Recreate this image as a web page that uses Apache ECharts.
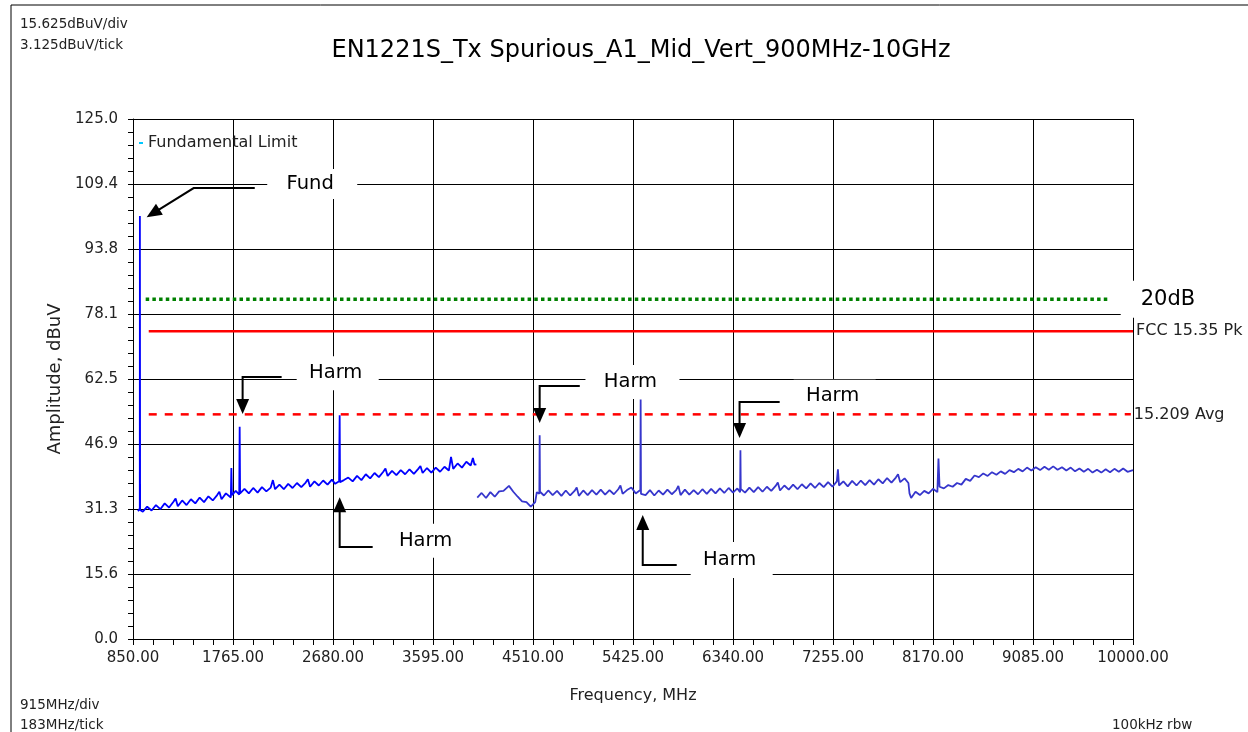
<!DOCTYPE html>
<html>
<head>
<meta charset="utf-8">
<title>EN1221S_Tx Spurious_A1_Mid_Vert_900MHz-10GHz</title>
<script src="https://cdn.jsdelivr.net/npm/echarts@6/dist/echarts.min.js"></script>
<style>
html, body { margin: 0; padding: 0; background: #fff; }
#main { width: 1248px; height: 732px; }
</style>
</head>
<body>
<div id="main"></div>
<script>
// sweep 850 MHz - 4 GHz (first receiver band), values in dBuV
var trace1 = [
    [896, 30.7], [912, 31.4], [913, 101.7], [915, 31.0], [940, 30.6], [980, 31.8], [1020, 30.9],
    [1060, 32.2], [1100, 31.2], [1140, 32.6], [1180, 31.6], [1220, 33.0], [1240, 33.8], [1260, 31.9],
    [1300, 33.3], [1340, 32.2], [1380, 33.6], [1420, 32.6], [1460, 34.0], [1500, 32.9],
    [1540, 34.3], [1580, 33.3], [1620, 34.6], [1640, 35.4], [1660, 33.6], [1700, 35.0], [1745, 34.0],
    [1750, 41.1], [1755, 34.6], [1790, 35.6], [1822, 34.7], [1826, 51.0], [1830, 35.0],
    [1870, 36.1], [1910, 35.0], [1950, 36.3], [1990, 35.2], [2030, 36.5], [2070, 35.5],
    [2110, 36.4], [2130, 38.2], [2150, 36.0], [2190, 37.1], [2230, 36.0], [2270, 37.3],
    [2310, 36.3], [2350, 37.5], [2390, 36.5], [2430, 37.6], [2450, 38.4], [2470, 36.6], [2510, 37.9],
    [2550, 36.9], [2590, 38.1], [2630, 37.1], [2670, 38.3], [2700, 37.3], [2736, 37.9],
    [2738, 45.9], [2741, 53.8], [2744, 37.7], [2780, 38.2], [2820, 38.8], [2860, 37.9],
    [2900, 39.2], [2940, 38.2], [2980, 39.6], [3020, 38.6], [3060, 39.9], [3100, 38.9],
    [3140, 40.2], [3160, 41.0], [3180, 39.2], [3220, 40.4], [3260, 39.4], [3300, 40.6], [3340, 39.6],
    [3380, 40.8], [3420, 39.7], [3460, 40.9], [3480, 41.6], [3500, 39.9], [3540, 41.1], [3580, 40.0],
    [3620, 41.2], [3660, 40.2], [3700, 41.4], [3740, 40.5], [3760, 43.8], [3780, 40.9],
    [3820, 42.2], [3860, 41.2], [3900, 42.6], [3940, 41.7], [3960, 43.5], [3975, 41.9],
    [3992, 42.0]
]

// sweep 4 GHz - 10 GHz
var trace2 = [
    [4000, 34.0], [4040, 35.1], [4080, 33.9], [4120, 35.3], [4160, 34.2], [4200, 35.5],
    [4240, 35.6], [4290, 36.8], [4330, 35.4], [4370, 34.2], [4410, 33.1], [4450, 32.9],
    [4490, 31.8], [4530, 32.9], [4545, 35.3], [4568, 34.9], [4571, 49.0], [4574, 35.4],
    [4610, 34.5], [4650, 35.7], [4690, 34.6], [4730, 35.6], [4770, 34.4], [4810, 35.7],
    [4850, 34.5], [4890, 35.6], [4910, 36.4], [4930, 34.4], [4970, 35.7], [5010, 34.6], [5050, 35.8],
    [5090, 34.7], [5130, 35.9], [5170, 34.7], [5210, 35.8], [5250, 34.8], [5290, 36.0],
    [5310, 36.9], [5330, 34.9], [5370, 35.8], [5410, 36.4], [5450, 35.0], [5492, 35.8], [5495, 57.6],
    [5498, 34.9], [5540, 34.6], [5580, 35.8], [5620, 34.5], [5660, 35.7], [5700, 34.7],
    [5740, 35.9], [5780, 34.8], [5820, 35.8], [5840, 36.8], [5860, 34.6], [5900, 35.9], [5940, 34.7],
    [5980, 35.8], [6020, 34.8], [6060, 36.0], [6100, 34.9], [6140, 36.1], [6180, 35.0],
    [6220, 36.2], [6260, 35.1], [6300, 36.3], [6340, 35.2], [6380, 36.2], [6405, 35.3],
    [6408, 45.4], [6411, 36.1], [6450, 35.2], [6490, 36.4], [6530, 35.3], [6570, 36.5],
    [6610, 35.4], [6650, 36.6], [6690, 35.6], [6730, 36.8], [6750, 37.6], [6770, 35.7], [6810, 36.9],
    [6850, 35.9], [6890, 37.1], [6930, 36.0], [6970, 37.2], [7010, 36.2], [7050, 37.4],
    [7090, 36.3], [7130, 37.5], [7170, 36.5], [7210, 37.7], [7250, 36.6], [7290, 37.9],
    [7300, 40.8], [7310, 36.9], [7350, 37.9], [7390, 36.7], [7430, 38.0], [7470, 36.9],
    [7510, 38.1], [7550, 37.0], [7590, 38.2], [7630, 37.1], [7670, 38.4], [7710, 37.4],
    [7750, 38.7], [7790, 37.6], [7830, 38.8], [7850, 39.6], [7870, 37.7], [7910, 38.6], [7945, 37.5],
    [7955, 35.0], [7970, 33.9], [8010, 35.4], [8050, 34.6], [8090, 35.6], [8130, 35.0],
    [8170, 36.1], [8210, 35.3], [8220, 43.4], [8230, 36.6], [8270, 36.2], [8310, 37.0],
    [8350, 36.6], [8390, 37.5], [8430, 37.1], [8470, 38.5], [8510, 38.0], [8550, 39.3],
    [8590, 38.9], [8630, 39.8], [8670, 39.2], [8710, 40.1], [8750, 39.5], [8790, 40.3],
    [8830, 39.7], [8870, 40.6], [8910, 40.1], [8950, 40.9], [8990, 40.3], [9030, 41.2],
    [9070, 40.5], [9110, 41.3], [9150, 40.6], [9190, 41.4], [9230, 40.7], [9270, 41.5],
    [9310, 40.7], [9350, 41.3], [9390, 40.5], [9430, 41.2], [9470, 40.3], [9510, 41.0],
    [9550, 40.2], [9590, 40.9], [9630, 40.0], [9670, 40.7], [9710, 40.0], [9750, 40.8],
    [9790, 40.1], [9830, 40.9], [9870, 40.2], [9910, 41.0], [9950, 40.2], [10000, 40.6]
]

// limit lines
var limit20dB = [[966, 81.7], [9787, 81.7]]
var limitPk = [[994, 74.0], [10000, 74.0]]
var limitAvg = [[994, 54.0], [9980, 54.0]]

// axis scale
var freqMin = 850, freqMax = 10000, freqDiv = 915
var ampMin = 0, ampMax = 125, ampDiv = 15.625

// arrows + labels
var notes = [
    { text: 'Fund', at: [2490, 109.4], w: 90, h: 30, path: [[1964, 108.4], [1405, 108.4], [975, 101.4]] },
    { text: 'Harm', at: [2723, 63.9], w: 82, h: 34, path: [[2210, 63.0], [1853, 63.0], [1853, 54.1]] },
    { text: 'Harm', at: [3545, 23.6], w: 84, h: 34, path: [[3043, 22.1], [2741, 22.1], [2741, 34.1]] },
    { text: 'Harm', at: [5420, 61.8], w: 94, h: 34, path: [[4938, 60.8], [4571, 60.8], [4571, 51.9]] },
    { text: 'Harm', at: [7270, 58.5], w: 82, h: 32, path: [[6767, 57.0], [6400, 57.0], [6400, 48.3]] },
    { text: 'Harm', at: [6328, 19.0], w: 82, h: 36, path: [[5825, 17.8], [5514, 17.8], [5514, 29.8]] }
]

var FONT = '"DejaVu Sans", "Liberation Sans", Arial, sans-serif'

var myChart = echarts.init(document.getElementById('main'))

myChart.setOption({
    animation: false,
    backgroundColor: '#fff',
    title: {
        text: 'EN1221S_Tx Spurious_A1_Mid_Vert_900MHz-10GHz',
        left: 636,
        top: 34,
        textAlign: 'center',
        textStyle: { fontFamily: FONT, fontSize: 24, fontWeight: 'normal', color: '#000' }
    },
    legend: {
        left: 139,
        top: 135,
        padding: 0,
        itemWidth: 4,
        itemHeight: 2,
        icon: 'rect',
        data: ['Fundamental Limit'],
        textStyle: { fontFamily: FONT, fontSize: 16, color: '#222' }
    },
    grid: { left: 133, right: 115, top: 119, bottom: 93 },
    xAxis: {
        type: 'value',
        min: freqMin,
        max: freqMax,
        interval: freqDiv,
        name: 'Frequency, MHz',
        nameLocation: 'middle',
        nameGap: 49,
        nameTextStyle: { fontFamily: FONT, fontSize: 16, color: '#222' },
        axisLine: { lineStyle: { color: '#000', width: 1 } },
        axisTick: { show: true, length: 6, lineStyle: { color: '#000' } },
        minorTick: { show: true, splitNumber: 5, length: 6, lineStyle: { color: '#000' } },
        axisLabel: {
            margin: 12,
            fontFamily: FONT, fontSize: 15, color: '#222',
            formatter: function (v) { return v.toFixed(2) }
        },
        splitLine: { show: true, lineStyle: { color: '#000', width: 1 } }
    },
    yAxis: {
        type: 'value',
        min: ampMin,
        max: ampMax,
        interval: ampDiv,
        name: 'Amplitude, dBuV',
        nameLocation: 'middle',
        nameGap: 69,
        nameTextStyle: { fontFamily: FONT, fontSize: 18, color: '#222' },
        axisLine: { show: true, lineStyle: { color: '#000', width: 1 } },
        axisTick: { show: true, length: 5, lineStyle: { color: '#000' } },
        minorTick: { show: true, splitNumber: 5, length: 5, lineStyle: { color: '#000' } },
        axisLabel: {
            margin: 15,
            fontFamily: FONT, fontSize: 15, color: '#222',
            formatter: function (v) { return v.toFixed(1) }
        },
        splitLine: { show: true, lineStyle: { color: '#000', width: 1 } }
    },
    series: [
        {
            name: 'Fundamental Limit',
            type: 'line',
            color: '#00c8ff',
            data: []
        },
        {
            name: '20dB',
            type: 'line',
            symbol: 'none',
            data: limit20dB,
            lineStyle: { color: '#008000', width: 3.5, type: [3.5, 3.2] },
            endLabel: {
                show: true,
                formatter: '20dB',
                distance: 11,
                backgroundColor: '#fff',
                padding: [8, 20, 8, 20],
                fontFamily: FONT, fontSize: 21, color: '#000'
            },
            z: 5
        },
        {
            name: 'FCC 15.35 Pk',
            type: 'line',
            symbol: 'none',
            data: limitPk,
            lineStyle: { color: '#ff0000', width: 2.5 },
            endLabel: {
                show: true,
                formatter: 'FCC 15.35 Pk',
                distance: 3,
                fontFamily: FONT, fontSize: 16, color: '#222'
            }
        },
        {
            name: '15.209 Avg',
            type: 'line',
            symbol: 'none',
            data: limitAvg,
            lineStyle: { color: '#ff0000', width: 2.5, type: [8, 8] },
            endLabel: {
                show: true,
                formatter: '15.209 Avg',
                distance: 3,
                fontFamily: FONT, fontSize: 16, color: '#222'
            }
        },
        {
            name: 'Trace 1',
            type: 'line',
            symbol: 'none',
            data: trace1,
            lineStyle: { color: '#0000ff', width: 1.8 }
        },
        {
            name: 'Trace 2',
            type: 'line',
            symbol: 'none',
            data: trace2,
            lineStyle: { color: '#3636cc', width: 1.8 }
        }
    ]
})

// text round the plot + arrows, placed after layout
function drawNotes() {
    var els = []
    els.push({ type: 'rect', shape: { x: 11, y: 5, width: 1400, height: 900 }, style: { fill: 'none', stroke: '#000', lineWidth: 1 }, z: 1 })
    var corner = [
        ['15.625dBuV/div', 20, 24, 'left'],
        ['3.125dBuV/tick', 20, 45, 'left'],
        ['915MHz/div', 20, 705, 'left'],
        ['183MHz/tick', 20, 725, 'left'],
        ['100kHz rbw', 1112, 725, 'left']
    ]
    corner.forEach(function (c) {
        els.push({
            type: 'text', x: c[1], y: c[2], z: 60,
            style: { text: c[0], font: '13.5px ' + FONT, fill: '#222', align: c[3], verticalAlign: 'middle' }
        })
    })
    notes.forEach(function (n) {
        var c = myChart.convertToPixel({ gridIndex: 0 }, n.at)
        els.push({ type: 'rect', z: 50, shape: { x: c[0] - n.w / 2, y: c[1] - n.h / 2, width: n.w, height: n.h }, style: { fill: '#fff' } })
        els.push({ type: 'text', x: c[0] - 2, y: c[1], z: 51, style: { text: n.text, font: '19.5px ' + FONT, fill: '#000', align: 'center', verticalAlign: 'middle' } })
        var pts = n.path.map(function (p) { return myChart.convertToPixel({ gridIndex: 0 }, p) })
        var tip = pts[pts.length - 1]
        var prev = pts[pts.length - 2]
        var dx = tip[0] - prev[0], dy = tip[1] - prev[1]
        var len = Math.sqrt(dx * dx + dy * dy)
        dx /= len; dy /= len
        var L = 15, W = 13
        var bx = tip[0] - dx * L, by = tip[1] - dy * L
        var line = pts.slice(0, -1).concat([[bx + dx, by + dy]])
        els.push({ type: 'polyline', z: 52, shape: { points: line }, style: { stroke: '#000', lineWidth: 2, fill: null } })
        els.push({
            type: 'polygon', z: 52,
            shape: { points: [tip, [bx - dy * W / 2, by + dx * W / 2], [bx + dy * W / 2, by - dx * W / 2]] },
            style: { fill: '#000' }
        })
    })
    myChart.setOption({ graphic: els })
}
drawNotes()
</script>
</body>
</html>
